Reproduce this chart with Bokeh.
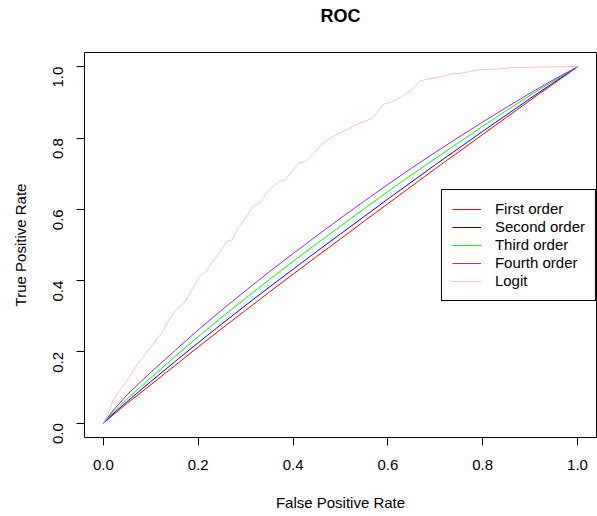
import math
from bokeh.plotting import figure
from bokeh.models import Range1d, FixedTicker
from bokeh.embed import file_html
from bokeh.resources import INLINE

# ---- data ----
fpr_grid = [0.0, 0.02, 0.05, 0.10, 0.15, 0.20, 0.25, 0.30, 0.35, 0.40, 0.45,
            0.50, 0.55, 0.60, 0.65, 0.70, 0.75, 0.80, 0.85, 0.90, 0.95, 1.0]
first_order = [0.0, 0.023, 0.056, 0.108, 0.161, 0.214, 0.266, 0.317, 0.368, 0.418, 0.468,
               0.517, 0.567, 0.616, 0.665, 0.714, 0.762, 0.810, 0.858, 0.906, 0.953, 1.0]
second_order = [0.0, 0.026, 0.061, 0.117, 0.172, 0.226, 0.279, 0.331, 0.382, 0.432, 0.482,
                0.531, 0.580, 0.629, 0.677, 0.725, 0.772, 0.819, 0.865, 0.911, 0.956, 1.0]
third_order = [0.0, 0.030, 0.069, 0.128, 0.186, 0.243, 0.298, 0.351, 0.403, 0.454, 0.504,
               0.553, 0.602, 0.650, 0.697, 0.743, 0.788, 0.833, 0.877, 0.920, 0.961, 1.0]
fourth_order = [0.0, 0.035, 0.080, 0.143, 0.203, 0.262, 0.318, 0.372, 0.425, 0.476, 0.526,
                0.575, 0.623, 0.670, 0.716, 0.760, 0.803, 0.845, 0.886, 0.926, 0.964, 1.0]

logit_fpr = [0.0, 0.0097, 0.0203, 0.0344, 0.045, 0.059, 0.073, 0.094, 0.108, 0.122, 0.136,
             0.151, 0.172, 0.190, 0.204, 0.215, 0.232, 0.250, 0.260, 0.271, 0.285, 0.303,
             0.317, 0.331, 0.348, 0.369, 0.383, 0.398, 0.412, 0.426, 0.443, 0.461, 0.485,
             0.503, 0.515, 0.535, 0.567, 0.591, 0.605, 0.626, 0.647, 0.668, 0.683, 0.711,
             0.732, 0.760, 0.788, 0.823, 0.859, 0.908, 0.957, 1.0]
logit_tpr = [0.0, 0.027, 0.064, 0.092, 0.111, 0.139, 0.167, 0.204, 0.228, 0.251, 0.284,
             0.316, 0.340, 0.382, 0.414, 0.424, 0.456, 0.489, 0.510, 0.514, 0.550, 0.582,
             0.610, 0.620, 0.652, 0.678, 0.682, 0.708, 0.729, 0.734, 0.755, 0.783, 0.806,
             0.817, 0.825, 0.839, 0.855, 0.895, 0.900, 0.914, 0.932, 0.960, 0.965, 0.972,
             0.979, 0.983, 0.991, 0.993, 0.997, 0.999, 1.0, 1.0]

series_names = ["First order", "Second order", "Third order", "Fourth order", "Logit"]
series_colors = ["#FF0000", "#0000FF", "#00FF00", "#A020F0", "#FFC0CB"]

tick_values = [0.0, 0.2, 0.4, 0.6, 0.8, 1.0]
tick_labels = ["0.0", "0.2", "0.4", "0.6", "0.8", "1.0"]
title_text = "ROC"

FONT = "Liberation Sans"

p = figure(width=597, height=516,
           x_range=Range1d(-0.04, 1.04), y_range=Range1d(-0.04, 1.04),
           output_backend="svg", toolbar_location=None,
           title=title_text + "\n",   # empty second line lifts the title to the top margin
           min_border_left=84, min_border_right=1, min_border_top=52, min_border_bottom=79)

p.title.align = "center"
p.title.vertical_align = "bottom"
p.title.text_font = FONT
p.title.text_font_size = "18px"
p.title.text_font_style = "bold"
p.title.text_color = "black"
p.title.text_line_height = 1.2
p.title.standoff = 6

p.grid.visible = False
p.outline_line_color = "black"
p.outline_line_width = 1
p.outline_line_alpha = 1
p.background_fill_color = "white"
p.border_fill_color = "white"

for ax in (p.xaxis[0], p.yaxis[0]):
    ax.ticker = FixedTicker(ticks=tick_values)
    ax.major_label_overrides = {v: l for v, l in zip(tick_values, tick_labels)}
    ax.axis_line_color = None
    ax.major_tick_in = 0
    ax.major_tick_out = 8
    ax.major_tick_line_color = "black"
    ax.minor_tick_line_color = None
    ax.major_label_text_font = FONT
    ax.major_label_text_font_size = "15px"
    ax.major_label_text_color = "black"
    ax.axis_label_text_font = FONT
    ax.axis_label_text_font_size = "15px"
    ax.axis_label_text_font_style = "normal"
    ax.axis_label_text_color = "black"

p.xaxis[0].axis_label = "False Positive Rate"
p.xaxis[0].major_label_standoff = 14
p.xaxis[0].axis_label_standoff = 21
p.yaxis[0].axis_label = "True Positive Rate"
p.yaxis[0].major_label_orientation = math.pi / 2
p.yaxis[0].major_label_standoff = 18
p.yaxis[0].axis_label_standoff = 17

xs_list = [fpr_grid, fpr_grid, fpr_grid, fpr_grid, logit_fpr]
ys_list = [first_order, second_order, third_order, fourth_order, logit_tpr]

for name, col, xs, ys in zip(series_names, series_colors, xs_list, ys_list):
    p.line(xs, ys, line_color=col, line_width=1, legend_label=name)

lg = p.legend[0]
lg.location = "right"
lg.margin = 0
lg.padding = 10
lg.spacing = 0
lg.glyph_width = 29
lg.glyph_height = 18
lg.label_height = 18
lg.label_standoff = 14
lg.label_text_font = FONT
lg.label_text_font_size = "15px"
lg.label_text_color = "black"
lg.border_line_color = "black"
lg.border_line_width = 1
lg.border_line_alpha = 1
lg.background_fill_color = "white"
lg.background_fill_alpha = 1

open("out.html", "w").write(file_html(p, INLINE))
